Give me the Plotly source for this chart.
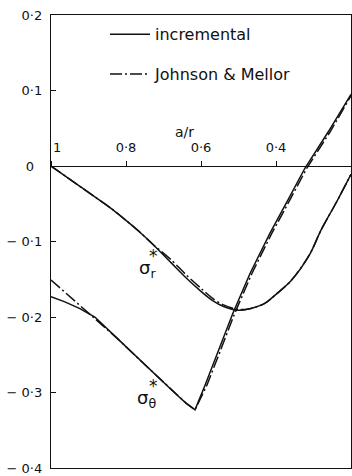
import plotly.graph_objects as go

# a/r values and stresses
ar_r = [1.00, 0.92, 0.84, 0.80, 0.76, 0.73, 0.68, 0.64, 0.60, 0.57, 0.54, 0.50, 0.47, 0.43, 0.40, 0.36, 0.31, 0.28, 0.24, 0.20]
sr_inc = [0.0, -0.028, -0.056, -0.072, -0.089, -0.103, -0.128, -0.148, -0.166, -0.178, -0.186, -0.191, -0.189, -0.182, -0.170, -0.152, -0.117, -0.085, -0.049, -0.011]
sr_jm = [0.0, -0.028, -0.056, -0.072, -0.089, -0.103, -0.124, -0.144, -0.162, -0.175, -0.184, -0.190, -0.189, -0.182, -0.170, -0.152, -0.117, -0.085, -0.049, -0.011]

ar_t_inc = [1.00, 0.963, 0.923, 0.883, 0.824, 0.763, 0.709, 0.667, 0.640, 0.616, 0.589, 0.563, 0.541, 0.515, 0.469, 0.416, 0.368, 0.323, 0.261, 0.20]
st_inc = [-0.173, -0.180, -0.189, -0.200, -0.228, -0.257, -0.282, -0.302, -0.314, -0.323, -0.290, -0.257, -0.228, -0.195, -0.142, -0.089, -0.045, -0.003, 0.045, 0.095]
ar_t_jm = [1.00, 0.949, 0.901, 0.824, 0.763, 0.709, 0.667, 0.640, 0.616, 0.584, 0.558, 0.536, 0.510, 0.464, 0.411, 0.363, 0.318, 0.256, 0.20]
st_jm = [-0.151, -0.173, -0.195, -0.228, -0.257, -0.282, -0.302, -0.314, -0.323, -0.290, -0.257, -0.228, -0.195, -0.142, -0.089, -0.045, -0.003, 0.045, 0.093]

series_names = ["incremental", "Johnson & Mellor"]
y_ticks = [0.2, 0.1, 0.0, -0.1, -0.2, -0.3, -0.4]
y_ticktext = ["0·2", "0·1", "0\u00a0\u00a0", "\u2212\u00a00·1", "\u2212\u00a00·2", "\u2212\u00a00·3", "\u2212\u00a00·4"]
x_ticks = [1.0, 0.8, 0.6, 0.4, 0.2]
x_ticktext = ["\u00a0\u00a0\u00a01", "0·8", "0·6", "0·4", "0·2" + "\u00a0" * 8]

FONT = "DejaVu Sans"
INK = "#111111"
JM_DASH = "12px,3px,2px,3px"

fig = go.Figure()
# incremental
fig.add_trace(go.Scatter(
    x=ar_r, y=sr_inc, mode="lines", name=series_names[0], legendgroup="a",
    line=dict(color=INK, width=1.5, shape="spline", smoothing=0.8)))
fig.add_trace(go.Scatter(
    x=ar_t_inc, y=st_inc, mode="lines", name=series_names[0], legendgroup="a",
    showlegend=False, line=dict(color=INK, width=1.5)))
# Johnson & Mellor
fig.add_trace(go.Scatter(
    x=ar_r, y=sr_jm, mode="lines", name=series_names[1], legendgroup="b",
    line=dict(color=INK, width=1.5, dash=JM_DASH, shape="spline", smoothing=0.8)))
fig.add_trace(go.Scatter(
    x=ar_t_jm, y=st_jm, mode="lines", name=series_names[1], legendgroup="b",
    showlegend=False, line=dict(color=INK, width=1.5, dash=JM_DASH)))
# invisible trace to activate the in-plot a/r axis
fig.add_trace(go.Scatter(x=[None], y=[None], xaxis="x2", showlegend=False, hoverinfo="skip"))

axis_common = dict(showgrid=False, zeroline=False, linecolor=INK, linewidth=1.3)
fig.update_layout(
    width=352, height=476,
    margin=dict(l=51, r=1, t=15, b=8),
    paper_bgcolor="white", plot_bgcolor="white",
    font=dict(family=FONT, size=13, color=INK),
    xaxis=dict(range=[1.0, 0.2], showline=True, mirror=True, ticks="",
               showticklabels=False, **axis_common),
    xaxis2=dict(range=[1.0, 0.2], overlaying="x", anchor="free", position=0.6667,
                side="top", showline=True, ticks="outside", ticklen=5, tickwidth=1.3,
                tickcolor=INK, tickvals=x_ticks, ticktext=x_ticktext,
                ticklabelstandoff=4, tickfont=dict(size=13), **axis_common),
    yaxis=dict(range=[-0.4, 0.2], showline=True, mirror=True, ticks="inside",
               ticklen=5, tickwidth=1.3, tickcolor=INK, tickvals=y_ticks,
               ticktext=y_ticktext, ticklabelstandoff=5, tickfont=dict(size=13),
               **axis_common),
    showlegend=True,
    legend=dict(x=0.18, y=0.995, xanchor="left", yanchor="top",
                bgcolor="rgba(0,0,0,0)", font=dict(size=16),
                traceorder="grouped", tracegroupgap=16, itemwidth=40),
)

ann = [
    dict(x=0.645, y=0.045, text="a/r", font=dict(size=14)),
    dict(x=0.742, y=-0.136, text="σ<sub>r</sub>", font=dict(size=18)),
    dict(x=0.726, y=-0.119, text="*", font=dict(size=17)),
    dict(x=0.746, y=-0.309, text="σ<sub>θ</sub>", font=dict(size=18)),
    dict(x=0.726, y=-0.291, text="*", font=dict(size=17)),
]
for a in ann:
    fig.add_annotation(xref="x", yref="y", showarrow=False, **a)

fig.write_html("out.html", config={"displayModeBar": False},
               post_script="document.body.style.margin='0';")
